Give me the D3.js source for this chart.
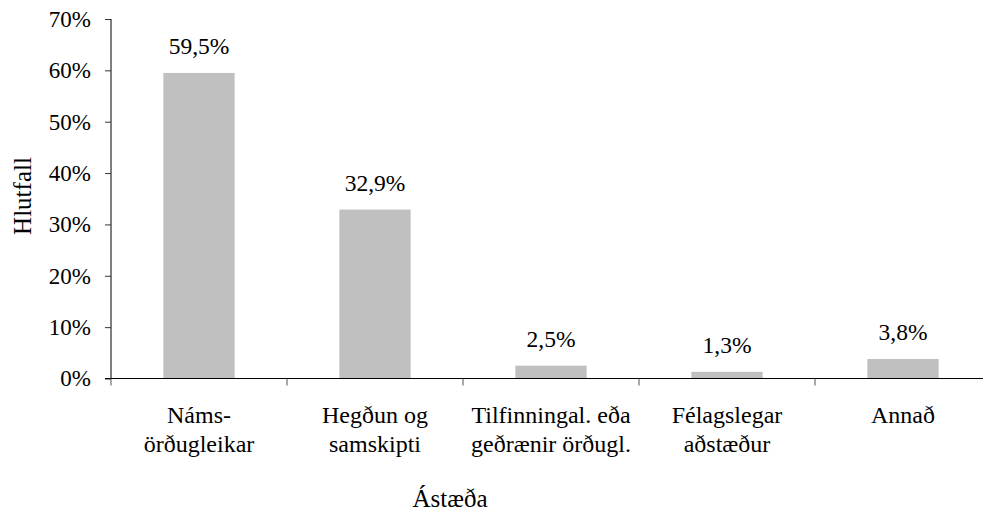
<!DOCTYPE html>
<html>
<head>
<meta charset="utf-8">
<script src="https://cdn.jsdelivr.net/npm/d3@7"></script>
<style>
  body { margin: 0; background: #fff; }
  svg text { font-family: 'Liberation Serif', 'Times New Roman', Times, serif; fill: #000; }
</style>
</head>
<body>
<svg width="983" height="512"></svg>
<script>
// gögn
var categories = [["Náms-", "örðugleikar"], ["Hegðun og", "samskipti"], ["Tilfinningal. eða", "geðrænir örðugl."], ["Félagslegar", "aðstæður"], ["Annað"]];
var values = [59.5, 32.9, 2.5, 1.3, 3.8];
var yTicks = [0, 10, 20, 30, 40, 50, 60, 70];

var svg = d3.select("svg"),
    font = "'Liberation Serif', 'Times New Roman', serif",
    mLeft = 111, mRight = 991, mTop = 19, mBottom = 378.5;

var x = d3.scaleBand()
    .domain(d3.range(categories.length))
    .range([mLeft, mRight])
    .padding(0);

var y = d3.scaleLinear()
    .domain([0, 70])
    .range([mBottom, mTop]);

var barW = x.bandwidth() * 0.405;

// stoplar
svg.append("g").selectAll("rect")
    .data(values)
    .enter().append("rect")
    .attr("x", function(d, i) { return x(i) + x.bandwidth() / 2 - barW / 2; })
    .attr("y", function(d) { return y(d); })
    .attr("width", barW)
    .attr("height", function(d) { return mBottom - y(d); })
    .style("fill", "#c0c0c0");

// gildi ofan á stoplum
svg.append("g").selectAll("text")
    .data(values)
    .enter().append("text")
    .attr("x", function(d, i) { return x(i) + x.bandwidth() / 2; })
    .attr("y", function(d) { return y(d) - 19; })
    .attr("text-anchor", "middle")
    .style("font-size", "23.5px")
    .text(function(d) { return d.toFixed(1).replace(".", ",") + "%"; });

// y ás
var yAxis = svg.append("g")
    .attr("transform", "translate(" + mLeft + ",0)")
    .call(d3.axisLeft(y).tickValues(yTicks).tickSize(6).tickPadding(14)
        .tickFormat(function(d) { return d + "%"; }));
yAxis.select(".domain").attr("stroke", "#000").attr("d", "M0," + mBottom + "V" + mTop);
yAxis.selectAll(".tick line").attr("stroke", "#333");
yAxis.attr("font-family", null).attr("font-size", null);
yAxis.selectAll("text").attr("fill", "#000").style("font-size", "23px");

// x ás
var xAxis = svg.append("g")
    .attr("transform", "translate(0," + mBottom + ")");
xAxis.append("line")
    .attr("x1", mLeft - 6).attr("x2", mRight)
    .attr("stroke", "#000");
xAxis.selectAll(".tk")
    .data(d3.range(categories.length + 1))
    .enter().append("line")
    .attr("class", "tk")
    .attr("x1", function(i) { return mLeft + i * x.step(); })
    .attr("x2", function(i) { return mLeft + i * x.step(); })
    .attr("y1", 0).attr("y2", 7)
    .attr("stroke", "#555");

var lab = xAxis.selectAll(".lab")
    .data(categories)
    .enter().append("text")
    .attr("class", "lab")
    .attr("text-anchor", "middle")
    .attr("x", function(d, i) { return x(i) + x.bandwidth() / 2; })
    .attr("y", 44)
    .style("font-size", "24px");
lab.selectAll("tspan")
    .data(function(d) { return d; })
    .enter().append("tspan")
    .attr("x", function() { return d3.select(this.parentNode).attr("x"); })
    .attr("dy", function(d, i) { return i ? 29 : 0; })
    .text(function(d) { return d; });

// ásaheiti
svg.append("text")
    .attr("x", 450)
    .attr("y", 507)
    .attr("text-anchor", "middle")
    .style("font-size", "25px")
    .text("Ástæða");

svg.append("text")
    .attr("transform", "translate(31,196) rotate(-90)")
    .attr("text-anchor", "middle")
    .style("font-size", "25px")
    .text("Hlutfall");

svg.selectAll("text").style("font-family", font);
</script>
</body>
</html>
